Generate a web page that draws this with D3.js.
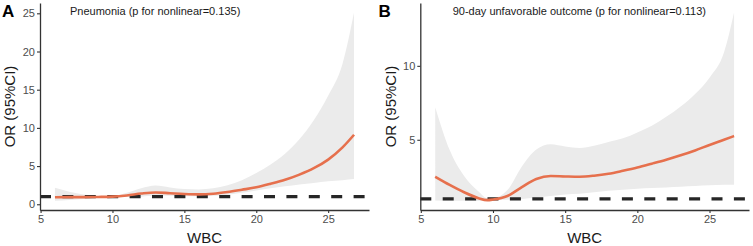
<!DOCTYPE html>
<html>
<head>
<meta charset="utf-8">
<script src="https://cdn.jsdelivr.net/npm/d3@7"></script>
<style>
  body { margin: 0; background: #fff; }
  svg { display: block; font-family: "Liberation Sans", Arial, sans-serif; }
</style>
</head>
<body>
<div id="chart"></div>
<script>
// Panel A: pneumonia
const wbcA = [6, 7, 8, 9, 10, 11, 12, 13, 14, 15, 16, 17, 18, 19, 20, 21, 22, 23, 24, 25, 26, 26.8];
const orA  = [0.92, 0.93, 0.94, 0.96, 1.0, 1.15, 1.4, 1.55, 1.45, 1.35, 1.3, 1.38, 1.6, 1.9, 2.22, 2.68, 3.2, 3.88, 4.72, 5.85, 7.45, 9.1];
const loA  = [0.45, 0.55, 0.7, 0.85, 0.95, 0.95, 1.0, 1.15, 1.1, 1.05, 1.05, 1.1, 1.25, 1.5, 1.8, 2.1, 2.35, 2.6, 2.8, 3.0, 3.15, 3.3];
const hiA  = [2.15, 1.65, 1.27, 1.08, 1.05, 1.5, 2.1, 2.45, 2.2, 2.0, 1.95, 2.1, 2.5, 3.15, 4.1, 5.2, 6.6, 8.5, 11.0, 14.2, 18.4, 25.1];

// Panel B: 90-day unfavorable outcome
const wbcB = [6, 7, 8, 9, 9.6, 10, 11, 12, 13, 14, 15, 16, 17, 18, 19, 20, 21, 22, 23, 24, 25, 26, 26.7];
const orB  = [2.5, 1.95, 1.45, 1.05, 0.92, 0.96, 1.2, 1.8, 2.35, 2.55, 2.52, 2.5, 2.57, 2.7, 2.9, 3.12, 3.38, 3.65, 3.95, 4.28, 4.65, 5.0, 5.25];
const loB  = [0.9, 0.88, 0.87, 0.88, 0.9, 0.92, 0.95, 1.0, 1.1, 1.2, 1.3, 1.35, 1.45, 1.55, 1.62, 1.68, 1.73, 1.78, 1.83, 1.88, 1.92, 1.95, 1.96];
const hiB  = [7.2, 4.3, 2.55, 1.5, 1.05, 1.05, 1.6, 3.2, 4.35, 4.7, 4.55, 4.45, 4.6, 4.85, 5.1, 5.5, 5.95, 6.55, 7.25, 8.1, 9.2, 10.9, 13.6];

const xTicks = [5, 10, 15, 20, 25];
const yTicksA = [0, 5, 10, 15, 20, 25];
const yTicksB = [5, 10];

const panels = [
  {letter: "A", title: "Pneumonia (p for nonlinear=0.135)", wbc: wbcA, or: orA, lo: loA, hi: hiA,
   yTicks: yTicksA, xDomain: [4.96, 27.84], yDomain: [-0.75, 26.35],
   left: 40, right: 369, letterX: 2, titleX: 70, ytitleX: 15},
  {letter: "B", title: "90-day unfavorable outcome (p for nonlinear=0.113)", wbc: wbcB, or: orB, lo: loB, hi: hiB,
   yTicks: yTicksB, xDomain: [4.965, 27.735], yDomain: [0.25, 14.25],
   left: 420.3, right: 749, letterX: 378.5, titleX: 452.7, ytitleX: 396}
];

const W = 753, H = 246;
const plotTop = 3, plotBottom = 210;

const svg = d3.select("#chart").append("svg")
  .attr("width", W)
  .attr("height", H);

panels.forEach(p => {
  const x = d3.scaleLinear().domain(p.xDomain).range([p.left, p.right]);
  const y = d3.scaleLinear().domain(p.yDomain).range([plotBottom, plotTop]);
  const data = p.wbc.map((w, i) => ({w: w, or: p.or[i], lo: p.lo[i], hi: p.hi[i]}));

  const g = svg.append("g");

  // confidence band
  const area = d3.area()
    .x(d => x(d.w))
    .y0(d => y(d.lo))
    .y1(d => y(d.hi))
    .curve(d3.curveMonotoneX);
  g.append("path")
    .datum(data)
    .attr("fill", "#ebebeb")
    .attr("d", area);

  // reference line at OR = 1
  g.append("line")
    .attr("x1", p.left).attr("x2", p.right)
    .attr("y1", y(1)).attr("y2", y(1))
    .attr("stroke", "#262626")
    .attr("stroke-width", 3.2)
    .attr("stroke-dasharray", "11,11.4");

  // fitted curve
  const line = d3.line()
    .x(d => x(d.w))
    .y(d => y(d.or))
    .curve(d3.curveMonotoneX);
  g.append("path")
    .datum(data)
    .attr("fill", "none")
    .attr("stroke", "#e6704d")
    .attr("stroke-width", 2.6)
    .attr("d", line);

  // axes
  const xAxis = g.append("g")
    .attr("transform", `translate(0,${plotBottom})`)
    .call(d3.axisBottom(x).tickValues(xTicks).tickSize(3).tickPadding(2).tickSizeOuter(0));
  const yAxis = g.append("g")
    .attr("transform", `translate(${p.left},0)`)
    .call(d3.axisLeft(y).tickValues(p.yTicks).tickSize(3).tickPadding(2).tickSizeOuter(0));

  [xAxis, yAxis].forEach(a => {
    a.select(".domain").attr("stroke", "#333").attr("stroke-width", 1.3);
    a.selectAll(".tick line").attr("stroke", "#333").attr("stroke-width", 1.1);
    a.selectAll(".tick text").attr("fill", "#4d4d4d").style("font-size", "11px")
      .style("font-family", "Liberation Sans, Arial, sans-serif");
  });

  // titles
  g.append("text")
    .attr("x", p.titleX).attr("y", 15)
    .attr("fill", "#1a1a1a")
    .style("font-size", "11px")
    .text(p.title);

  g.append("text")
    .attr("x", p.letterX).attr("y", 16.7)
    .attr("fill", "#000")
    .style("font-size", "17px")
    .style("font-weight", "bold")
    .text(p.letter);

  g.append("text")
    .attr("x", (p.left + p.right) / 2).attr("y", 243)
    .attr("text-anchor", "middle")
    .attr("fill", "#1a1a1a")
    .style("font-size", "15px")
    .text("WBC");

  g.append("text")
    .attr("transform", `translate(${p.ytitleX},${(plotTop + plotBottom) / 2}) rotate(-90)`)
    .attr("text-anchor", "middle")
    .attr("fill", "#1a1a1a")
    .style("font-size", "15px")
    .text("OR (95%CI)");
});
</script>
</body>
</html>
